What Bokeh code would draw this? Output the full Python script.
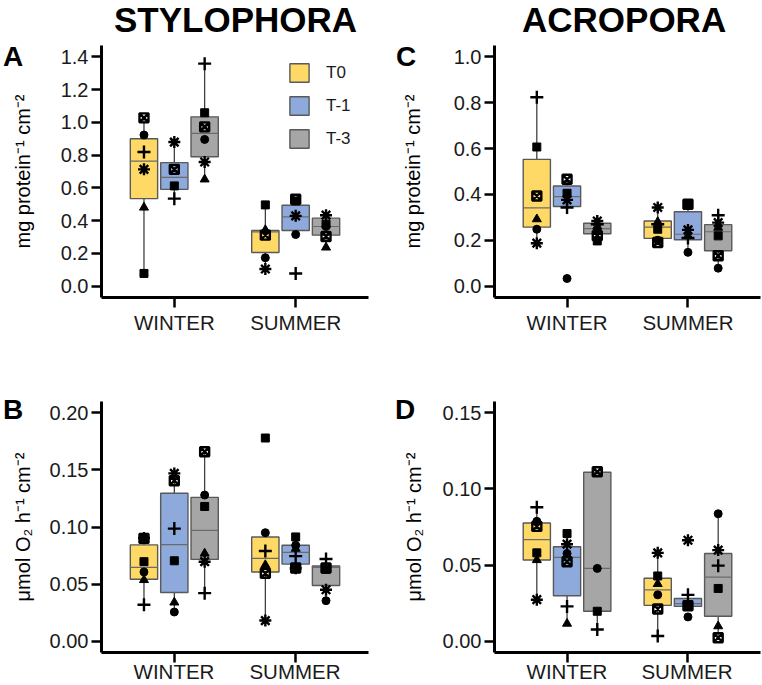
import math
from bokeh.plotting import figure
from bokeh.models import Range1d, FixedTicker, Legend, LegendItem, NumeralTickFormatter, Div
from bokeh.layouts import gridplot, column
from bokeh.embed import file_html
from bokeh.resources import INLINE

# ---------------- data ----------------
seasons = ["WINTER", "SUMMER"]
treatments = ["T0", "T-1", "T-3"]
colors = ["#FFD966", "#8EA9DB", "#A6A6A6"]
markers = ["square", "square_x", "circle", "triangle", "cross", "asterisk"]

# group order: WINTER T0, WINTER T-1, WINTER T-3, SUMMER T0, SUMMER T-1, SUMMER T-3
# each row: value for each marker (colony) in the order of `markers`; None = not visible

# Panel A  (Stylophora, protein)
A_points = [
    [0.077, 1.028, 0.923, 0.480, 0.819, 0.713],
    [0.612, 0.713, None, None, 0.534, 0.880],
    [1.059, 0.973, 0.896, 0.652, 1.359, 0.758],
    [0.496, 0.311, 0.173, 0.343, None, 0.104],
    [0.520, 0.530, 0.315, None, 0.077, 0.429],
    [0.378, 0.303, 0.364, 0.236, None, 0.433],
]
A_lo = [0.077, 0.534, 0.652, 0.104, 0.315, 0.236]
A_q1 = [0.534, 0.591, 0.790, 0.205, 0.339, 0.311]
A_med = [0.764, 0.664, 0.933, 0.331, 0.423, 0.364]
A_q3 = [0.900, 0.754, 1.034, 0.339, 0.494, 0.415]
A_hi = [1.028, 0.880, 1.359, 0.496, 0.530, 0.433]

# Panel C  (Acropora, protein)
C_points = [
    [0.607, 0.393, 0.248, 0.292, 0.824, 0.187],
    [0.405, 0.466, 0.033, None, 0.343, 0.376],
    [0.197, 0.220, 0.240, 0.260, 0.270, 0.284],
    [0.248, 0.190, 0.200, 0.280, 0.270, 0.343],
    [0.357, 0.357, 0.147, 0.220, 0.210, 0.245],
    [0.219, 0.132, 0.078, 0.255, 0.309, 0.277],
]
C_lo = [0.187, 0.343, 0.197, 0.190, 0.147, 0.078]
C_q1 = [0.257, 0.347, 0.228, 0.208, 0.202, 0.154]
C_med = [0.341, 0.390, 0.251, 0.257, 0.226, 0.237]
C_q3 = [0.553, 0.437, 0.274, 0.284, 0.324, 0.268]
C_hi = [0.824, 0.466, 0.284, 0.343, 0.357, 0.309]

# Panel B  (Stylophora, O2)
B_points = [
    [0.0696, 0.0900, 0.0606, 0.0536, 0.0319, 0.0904],
    [0.0704, 0.1406, 0.0255, 0.0339, 0.0986, 0.1470],
    [0.1180, 0.1660, 0.1280, 0.0768, 0.0420, 0.0696],
    [0.1780, 0.0594, 0.0950, 0.0667, 0.0790, 0.0180],
    [0.0913, 0.0640, 0.0840, 0.0810, 0.0745, 0.0638],
    [0.0630, 0.0640, 0.0354, None, 0.0719, 0.0450],
]
B_lo = [0.0319, 0.0255, 0.0420, 0.0180, 0.0638, 0.0354]
B_q1 = [0.0542, 0.0426, 0.0716, 0.0606, 0.0675, 0.0487]
B_med = [0.0646, 0.0846, 0.0970, 0.0725, 0.0777, 0.0646]
B_q3 = [0.0843, 0.1296, 0.1260, 0.0913, 0.0840, 0.0658]
B_hi = [0.0904, 0.1470, 0.1660, 0.0950, 0.0913, 0.0719]

# Panel D  (Acropora, O2)
D_points = [
    [0.0580, 0.0754, 0.0787, 0.0533, 0.0880, 0.0272],
    [0.0707, 0.0522, 0.0576, 0.0115, 0.0228, 0.0637],
    [0.0196, 0.1113, 0.0478, None, 0.0076, None],
    [0.0428, 0.0211, 0.0304, 0.0376, 0.0033, 0.0580],
    [0.0228, 0.0232, 0.0159, None, 0.0304, 0.0663],
    [0.0346, 0.0022, 0.0837, 0.0098, 0.0496, 0.0598],
]
D_lo = [0.0272, 0.0115, 0.0076, 0.0033, 0.0228, 0.0022]
D_q1 = [0.0533, 0.0298, 0.0196, 0.0235, 0.0228, 0.0163]
D_med = [0.0667, 0.0550, 0.0478, 0.0337, 0.0246, 0.0420]
D_q3 = [0.0776, 0.0620, 0.1110, 0.0413, 0.0280, 0.0576]
D_hi = [0.0880, 0.0707, 0.1113, 0.0580, 0.0304, 0.0837]

A_yticks = [0.0, 0.2, 0.4, 0.6, 0.8, 1.0, 1.2, 1.4]
C_yticks = [0.0, 0.2, 0.4, 0.6, 0.8, 1.0]
B_yticks = [0.00, 0.05, 0.10, 0.15, 0.20]
D_yticks = [0.00, 0.05, 0.10, 0.15]

protein_label = "mg protein\u207b\u00b9 cm\u207b\u00b2"
oxygen_label = "\u03bcmol O\u2082 h\u207b\u00b9 cm\u207b\u00b2"
species = ["STYLOPHORA", "ACROPORA"]
panel_letters = ["A", "B", "C", "D"]

# ---------------- layout / styling ----------------
FONT = "Liberation Sans"
X_START, X_END = 0.4, 2.6
season_pos = [1, 2]
dodge = [-0.25, 0.0, 0.25]
box_w = 0.225
COL_W = 381                      # width of each column
TOP_H, BOT_H = 345, 340          # height of each row
LEFT_BORDERS = [101, 113]        # frame left offset inside each column
RIGHT_BORDERS = [13, 2]
TOP_BORDERS = [45, 56]
BOTTOM_BORDERS = [48, 33]

marker_style = {
    "square": dict(size=8, fill_color="black", line_color="black", line_width=1),
    "square_x": dict(size=9, fill_color=None, line_color="black", line_width=2.4),
    "circle": dict(size=8, fill_color="black", line_color="black", line_width=1),
    "triangle": dict(size=9, fill_color="black", line_color="black", line_width=1),
    "cross": dict(size=13, fill_color=None, line_color="black", line_width=2.4),
    "asterisk": dict(size=12, fill_color=None, line_color="black", line_width=2.4),
}


def make_panel(points, lo, q1, med, q3, hi, ylo, yhi, yticks, fmt, ylabel, ylabel_standoff,
               col, row, legend=False):
    height = TOP_H if row == 0 else BOT_H
    p = figure(width=COL_W, height=height, output_backend="svg", toolbar_location=None,
               x_range=Range1d(X_START, X_END), y_range=Range1d(ylo, yhi),
               min_border_left=LEFT_BORDERS[col], min_border_right=RIGHT_BORDERS[col],
               min_border_top=TOP_BORDERS[row], min_border_bottom=BOTTOM_BORDERS[row])
    p.background_fill_color = "white"
    p.border_fill_color = "white"
    p.outline_line_color = None
    p.grid.visible = False

    xs, tr_idx = [], []
    for si, sp in enumerate(season_pos):
        for ti, d in enumerate(dodge):
            xs.append(sp + d)
            tr_idx.append(ti)

    # whiskers
    p.segment(x0=xs, x1=xs, y0=q3, y1=hi, line_color="#333333", line_width=1.2)
    p.segment(x0=xs, x1=xs, y0=lo, y1=q1, line_color="#333333", line_width=1.2)

    # boxes, one renderer per treatment
    box_renderers = []
    for ti in range(3):
        idx = [i for i in range(6) if tr_idx[i] == ti]
        r = p.vbar(x=[xs[i] for i in idx], width=box_w,
                   bottom=[q1[i] for i in idx], top=[q3[i] for i in idx],
                   fill_color=colors[ti], line_color="#595959", line_width=1.4)
        box_renderers.append(r)
    # medians
    p.segment(x0=[x - box_w / 2 for x in xs], x1=[x + box_w / 2 for x in xs],
              y0=med, y1=med, line_color="#6b6b6b", line_width=1.2)

    # individual colonies
    for mi, m in enumerate(markers):
        px, py = [], []
        for gi in range(6):
            v = points[gi][mi]
            if v is not None:
                px.append(xs[gi])
                py.append(v)
        p.scatter(x=px, y=py, marker=m, **marker_style[m])

    # axes
    for ax in (p.xaxis[0], p.yaxis[0]):
        ax.axis_line_width = 3
        ax.axis_line_color = "black"
        ax.major_tick_line_width = 2.5
        ax.major_tick_line_color = "black"
        ax.major_tick_in = 0
        ax.major_tick_out = 10
        ax.minor_tick_line_color = None
        ax.major_label_text_font = FONT
        ax.major_label_text_color = "#1a1a1a"
    p.yaxis.ticker = FixedTicker(ticks=yticks)
    p.yaxis.formatter = NumeralTickFormatter(format=fmt)
    p.yaxis.major_label_text_font_size = "20px"
    p.yaxis.major_label_standoff = 3
    p.yaxis.axis_label = ylabel
    p.yaxis.axis_label_text_font = FONT
    p.yaxis.axis_label_text_font_size = "20px"
    p.yaxis.axis_label_text_font_style = "normal"
    p.yaxis.axis_label_text_color = "black"
    p.yaxis.axis_label_standoff = ylabel_standoff

    p.xaxis.ticker = FixedTicker(ticks=season_pos)
    if row == 0:
        p.xaxis.major_label_overrides = {season_pos[i]: seasons[i] for i in range(2)}
        p.xaxis.major_label_text_font_size = "20.5px"
        p.xaxis.major_label_standoff = 3
    else:
        # bottom row: the category names sit at the very bottom edge of the page,
        # they are drawn as overlay texts below (see cat_center)
        p.xaxis.major_label_overrides = {season_pos[i]: "" for i in range(2)}
        p.xaxis.major_label_text_font_size = "1px"
        p.xaxis.major_label_standoff = 0

    if legend:
        lg = Legend(items=[LegendItem(label=treatments[i], renderers=[box_renderers[i]])
                           for i in range(3)],
                    location=(186, 147), glyph_width=24, glyph_height=23, spacing=10,
                    padding=0, margin=0, label_standoff=15, label_text_font=FONT,
                    label_text_font_size="17px", label_text_color="#1a1a1a",
                    border_line_color=None, background_fill_alpha=0)
        p.add_layout(lg)
    return p


pA = make_panel(A_points, A_lo, A_q1, A_med, A_q3, A_hi, -0.07, 1.47, A_yticks, "0.0",
                protein_label, 24, col=0, row=0, legend=True)
pC = make_panel(C_points, C_lo, C_q1, C_med, C_q3, C_hi, -0.05, 1.05, C_yticks, "0.0",
                protein_label, 27, col=1, row=0)
pB = make_panel(B_points, B_lo, B_q1, B_med, B_q3, B_hi, -0.01, 0.21, B_yticks, "0.00",
                oxygen_label, 13, col=0, row=1)
pD = make_panel(D_points, D_lo, D_q1, D_med, D_q3, D_hi, -0.0075, 0.1575, D_yticks, "0.00",
                oxygen_label, 15, col=1, row=1)

grid = gridplot([[pA, pC], [pB, pD]], toolbar_location=None)


def overlay_text(text, left, top, size, w, h, bold=True, align="left", color="black"):
    html = ('<div style="font-family: \'Liberation Sans\', Arial, sans-serif; font-weight: %s; '
            'font-size: %spx; line-height: %dpx; color: %s; white-space: nowrap; width: %dpx; '
            'text-align: %s; margin: 0; padding: 0;">%s</div>'
            % ("bold" if bold else "normal", size, h, color, w, align, text))
    return Div(text=html, width=w, height=h, margin=0,
               styles={"position": "absolute", "left": "%dpx" % round(left),
                       "top": "%dpx" % round(top), "margin": "0", "padding": "0",
                       "overflow": "visible"})


def cat_center(col, pos):
    fl = col * COL_W + LEFT_BORDERS[col]
    fw = COL_W - LEFT_BORDERS[col] - RIGHT_BORDERS[col]
    return fl + (pos - X_START) / (X_END - X_START) * fw


texts = [
    overlay_text(species[0], 114, 2, 35, 260, 35),
    overlay_text(species[1], 522, 2, 35, 220, 35),
    overlay_text(panel_letters[0], 3, 43, 28, 30, 28),
    overlay_text(panel_letters[2], 396, 43, 28, 30, 28),
    overlay_text(panel_letters[1], 3, 396, 28, 30, 28),
    overlay_text(panel_letters[3], 395, 396, 28, 30, 28),
]
# bottom-row category names
for col in range(2):
    for i, sp in enumerate(season_pos):
        cx = cat_center(col, sp)
        texts.append(overlay_text(seasons[i], cx - 70, 661, 20.5, 140, 22, bold=False,
                                  align="center", color="#1a1a1a"))

page = column([grid] + texts, spacing=0)

open("out.html", "w").write(file_html(page, INLINE))
